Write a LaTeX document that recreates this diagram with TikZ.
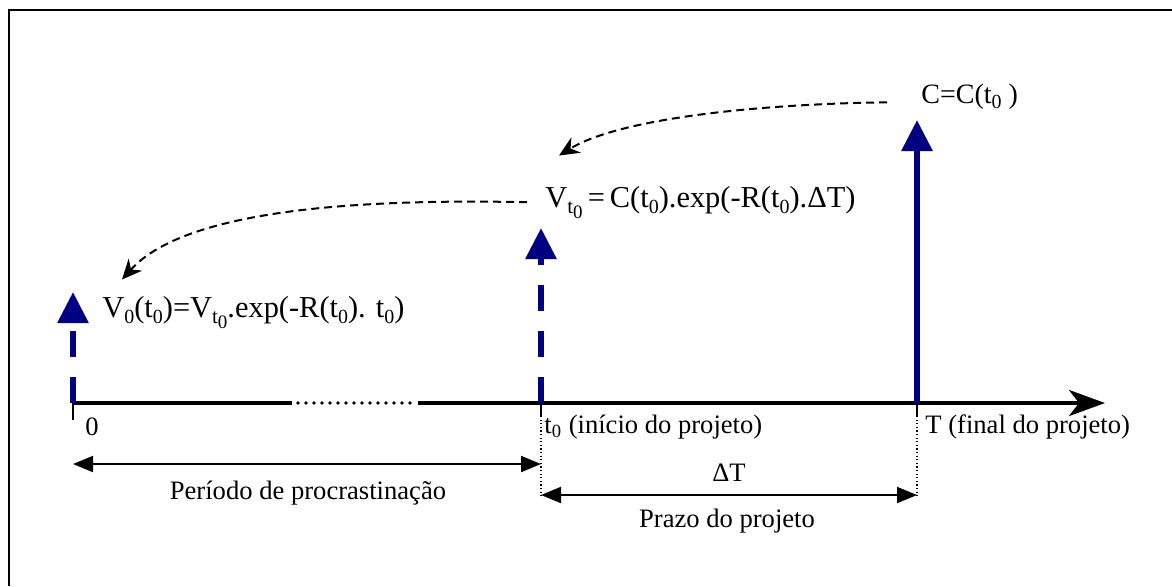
\documentclass[tikz,border=0pt]{standalone}
\usepackage{fontspec}
\setmainfont{Liberation Serif}
\usetikzlibrary{arrows.meta,positioning}
\definecolor{navy}{RGB}{0,0,128}
% subscript zero and nested subscript t_0 for the large formulas
\newcommand{\zsub}{\raisebox{-0.45ex}{\fontsize{10}{10}\selectfont 0}}
\newcommand{\tzsub}{\raisebox{-0.5ex}{\fontsize{10.5}{10}\selectfont t\raisebox{-0.45ex}{\fontsize{9.5}{9}\selectfont 0}}}

\begin{document}
\begin{tikzpicture}[x=0.5pt,y=-0.5pt,
      big/.style={font=\fontsize{15.2}{18}\selectfont,inner sep=0pt},
      lbl/.style={font=\fontsize{13.3}{15}\selectfont,inner sep=0pt},
      flow/.style={draw=navy,line width=3pt,
                   -{Triangle[length=15.5pt,width=15pt,fill=navy]}},
      cut/.style={flow,dash pattern=on 13pt off 10pt},
      disc/.style={line width=1pt,dash pattern=on 4pt off 2.5pt,
                   -{Stealth[length=10pt,width=9pt]}},
      span/.style={line width=1pt,
                   {Triangle[length=10pt,width=8pt]}-{Triangle[length=10pt,width=8pt]}},
      axis/.style={line width=2pt},
      tick/.style={line width=0.6pt},
      guide/.style={line width=0.6pt,dash pattern=on 0.6pt off 1.2pt}]
    \useasboundingbox (0,0) rectangle (1172,586);
    \draw[line width=0.8pt] (9,586) -- (9,10) -- (1172,10);

    % time axis
    \coordinate (o)   at (73,403);
    \coordinate (t0)  at (541,403);
    \coordinate (T)   at (917,403);
    \coordinate (end) at (1105,403);
    \draw[axis] (o) -- (292,403);
    \draw[line width=1.8pt,line cap=round,dash pattern=on 0pt off 4pt] (298,403) -- (414,403);
    \draw[axis,-{Stealth[length=18pt,width=13pt,inset=5pt]}] (418,403) -- (end);

    % ticks and guides
    \draw[tick] (o) -- ++(0,17);
    \draw[tick] (t0) -- ++(0,13);
    \draw[guide] ([yshift=-6.5pt]t0) -- ([yshift=-47pt]t0);
    \draw[tick] (T) -- ++(0,13);
    \draw[guide] ([yshift=-6.5pt]T) -- ([yshift=-47pt]T);

    % cash flows
    \coordinate (cTop)  at (917,120);
    \coordinate (vtTop) at (541,228);
    \coordinate (v0Top) at (73,292);
    \draw[flow] (T)  -- (cTop);
    \draw[cut]  (t0) -- (vtTop);
    \draw[cut]  (o)  -- (v0Top);

    % values
    \node[big,font=\fontsize{14}{17}\selectfont,anchor=base west] (cc) at (921,103)
      {C=C(t\zsub\ )};
    \node[big,anchor=base west] (vt) at (545,207)
      {V\tzsub\,=\,C(t\zsub).exp(-R(t\zsub).ΔT)};
    \node[big,anchor=base west] (v0) at (102,317)
      {V\zsub(t\zsub)=V\tzsub.exp(-R(t\zsub). t\zsub)};
    \draw[disc] ([xshift=-17pt,yshift=-3pt]cc.west)
                .. controls (760,104) and (620,118) ..
                ([xshift=7pt,yshift=15pt]vt.north west);
    \draw[disc] ([xshift=-9pt]vt.west)
                .. controls (330,198) and (180,215) ..
                ([xshift=10pt,yshift=8pt]v0.north west);

    % labels
    \node[lbl,anchor=west] (zero)  at (85,427)  {0};
    \node[lbl,anchor=west] (start) at (544,427) {t\textsubscript{0} (início do projeto)};
    \node[lbl,anchor=west] (final) at (925,427) {T (final do projeto)};
    \node[lbl] (dT)    at (729,473) {ΔT};
    \node[lbl] (proc)  at (308,493) {Período de procrastinação};
    \node[lbl] (prazo) at (727,521) {Prazo do projeto};
    \draw[span] ([yshift=-30.5pt]o)  -- ([yshift=-30.5pt]t0);
    \draw[span] ([yshift=-46pt]t0)   -- ([yshift=-46pt]T);
  \end{tikzpicture}
\end{document}
